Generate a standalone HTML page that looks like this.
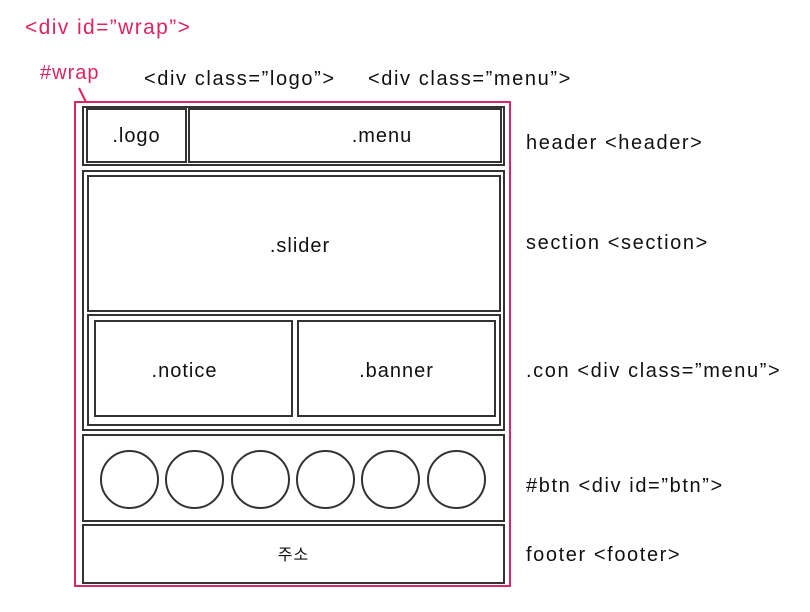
<!DOCTYPE html>
<html><head><style>
body{margin:0;width:810px;height:612px;background:#fff;position:relative;overflow:hidden;font-family:"Liberation Sans","Noto Sans CJK KR",sans-serif;}
.t{position:absolute;font-size:20px;color:#111;white-space:nowrap;line-height:1;letter-spacing:1.6px}
.p{color:#e0245e}
.b{position:absolute;border:2px solid #333;box-sizing:border-box;display:flex;align-items:center;justify-content:center;font-size:20px;color:#111;letter-spacing:1px;padding-top:6px}
.c{position:absolute;width:59px;height:59px;border:2px solid #333;border-radius:50%;box-sizing:border-box;top:450px}
</style></head><body>
<div class="t p" style="left:25px;top:17px;font-size:21px;letter-spacing:1.4px">&lt;div id=”wrap”&gt;</div>
<div class="t p" style="left:40px;top:63px;font-size:20px;letter-spacing:1px">#wrap</div>
<svg style="position:absolute;left:0;top:0" width="810" height="612"><line x1="79" y1="88" x2="86" y2="102" stroke="#e0245e" stroke-width="2"/></svg>
<div class="t" style="left:144px;top:69px">&lt;div class=”logo”&gt;</div>
<div class="t" style="left:368px;top:69px">&lt;div class=”menu”&gt;</div>
<div style="position:absolute;left:74px;top:101px;width:437px;height:486px;border:2px solid #e0245e;box-sizing:border-box"></div>
<div class="b" style="left:82px;top:106px;width:423px;height:60px"></div>
<div class="b" style="left:86px;top:108px;width:101px;height:55px;padding-top:2px">.logo</div>
<div class="b" style="left:188px;top:108px;width:314px;height:55px;padding-top:2px;padding-left:74px">.menu</div>
<div class="b" style="left:82px;top:170px;width:423px;height:261px"></div>
<div class="b" style="left:87px;top:175px;width:414px;height:137px;padding-left:12px">.slider</div>
<div class="b" style="left:87px;top:314px;width:414px;height:112px"></div>
<div class="b" style="left:94px;top:320px;width:199px;height:97px;padding-left:0px;padding-right:18px">.notice</div>
<div class="b" style="left:297px;top:320px;width:199px;height:97px">.banner</div>
<div class="b" style="left:82px;top:434px;width:423px;height:88px"></div>
<div class="c" style="left:100px"></div><div class="c" style="left:165px"></div><div class="c" style="left:231px"></div><div class="c" style="left:296px"></div><div class="c" style="left:361px"></div><div class="c" style="left:427px"></div>
<div class="b" style="left:82px;top:524px;width:423px;height:60px;font-size:16px;padding-top:0;padding-bottom:2px">주소</div>
<div class="t" style="left:526px;top:133px">header &lt;header&gt;</div>
<div class="t" style="left:526px;top:233px">section &lt;section&gt;</div>
<div class="t" style="left:526px;top:361px">.con &lt;div class=”menu”&gt;</div>
<div class="t" style="left:526px;top:476px">#btn &lt;div id=”btn”&gt;</div>
<div class="t" style="left:526px;top:545px">footer &lt;footer&gt;</div>
</body></html>
